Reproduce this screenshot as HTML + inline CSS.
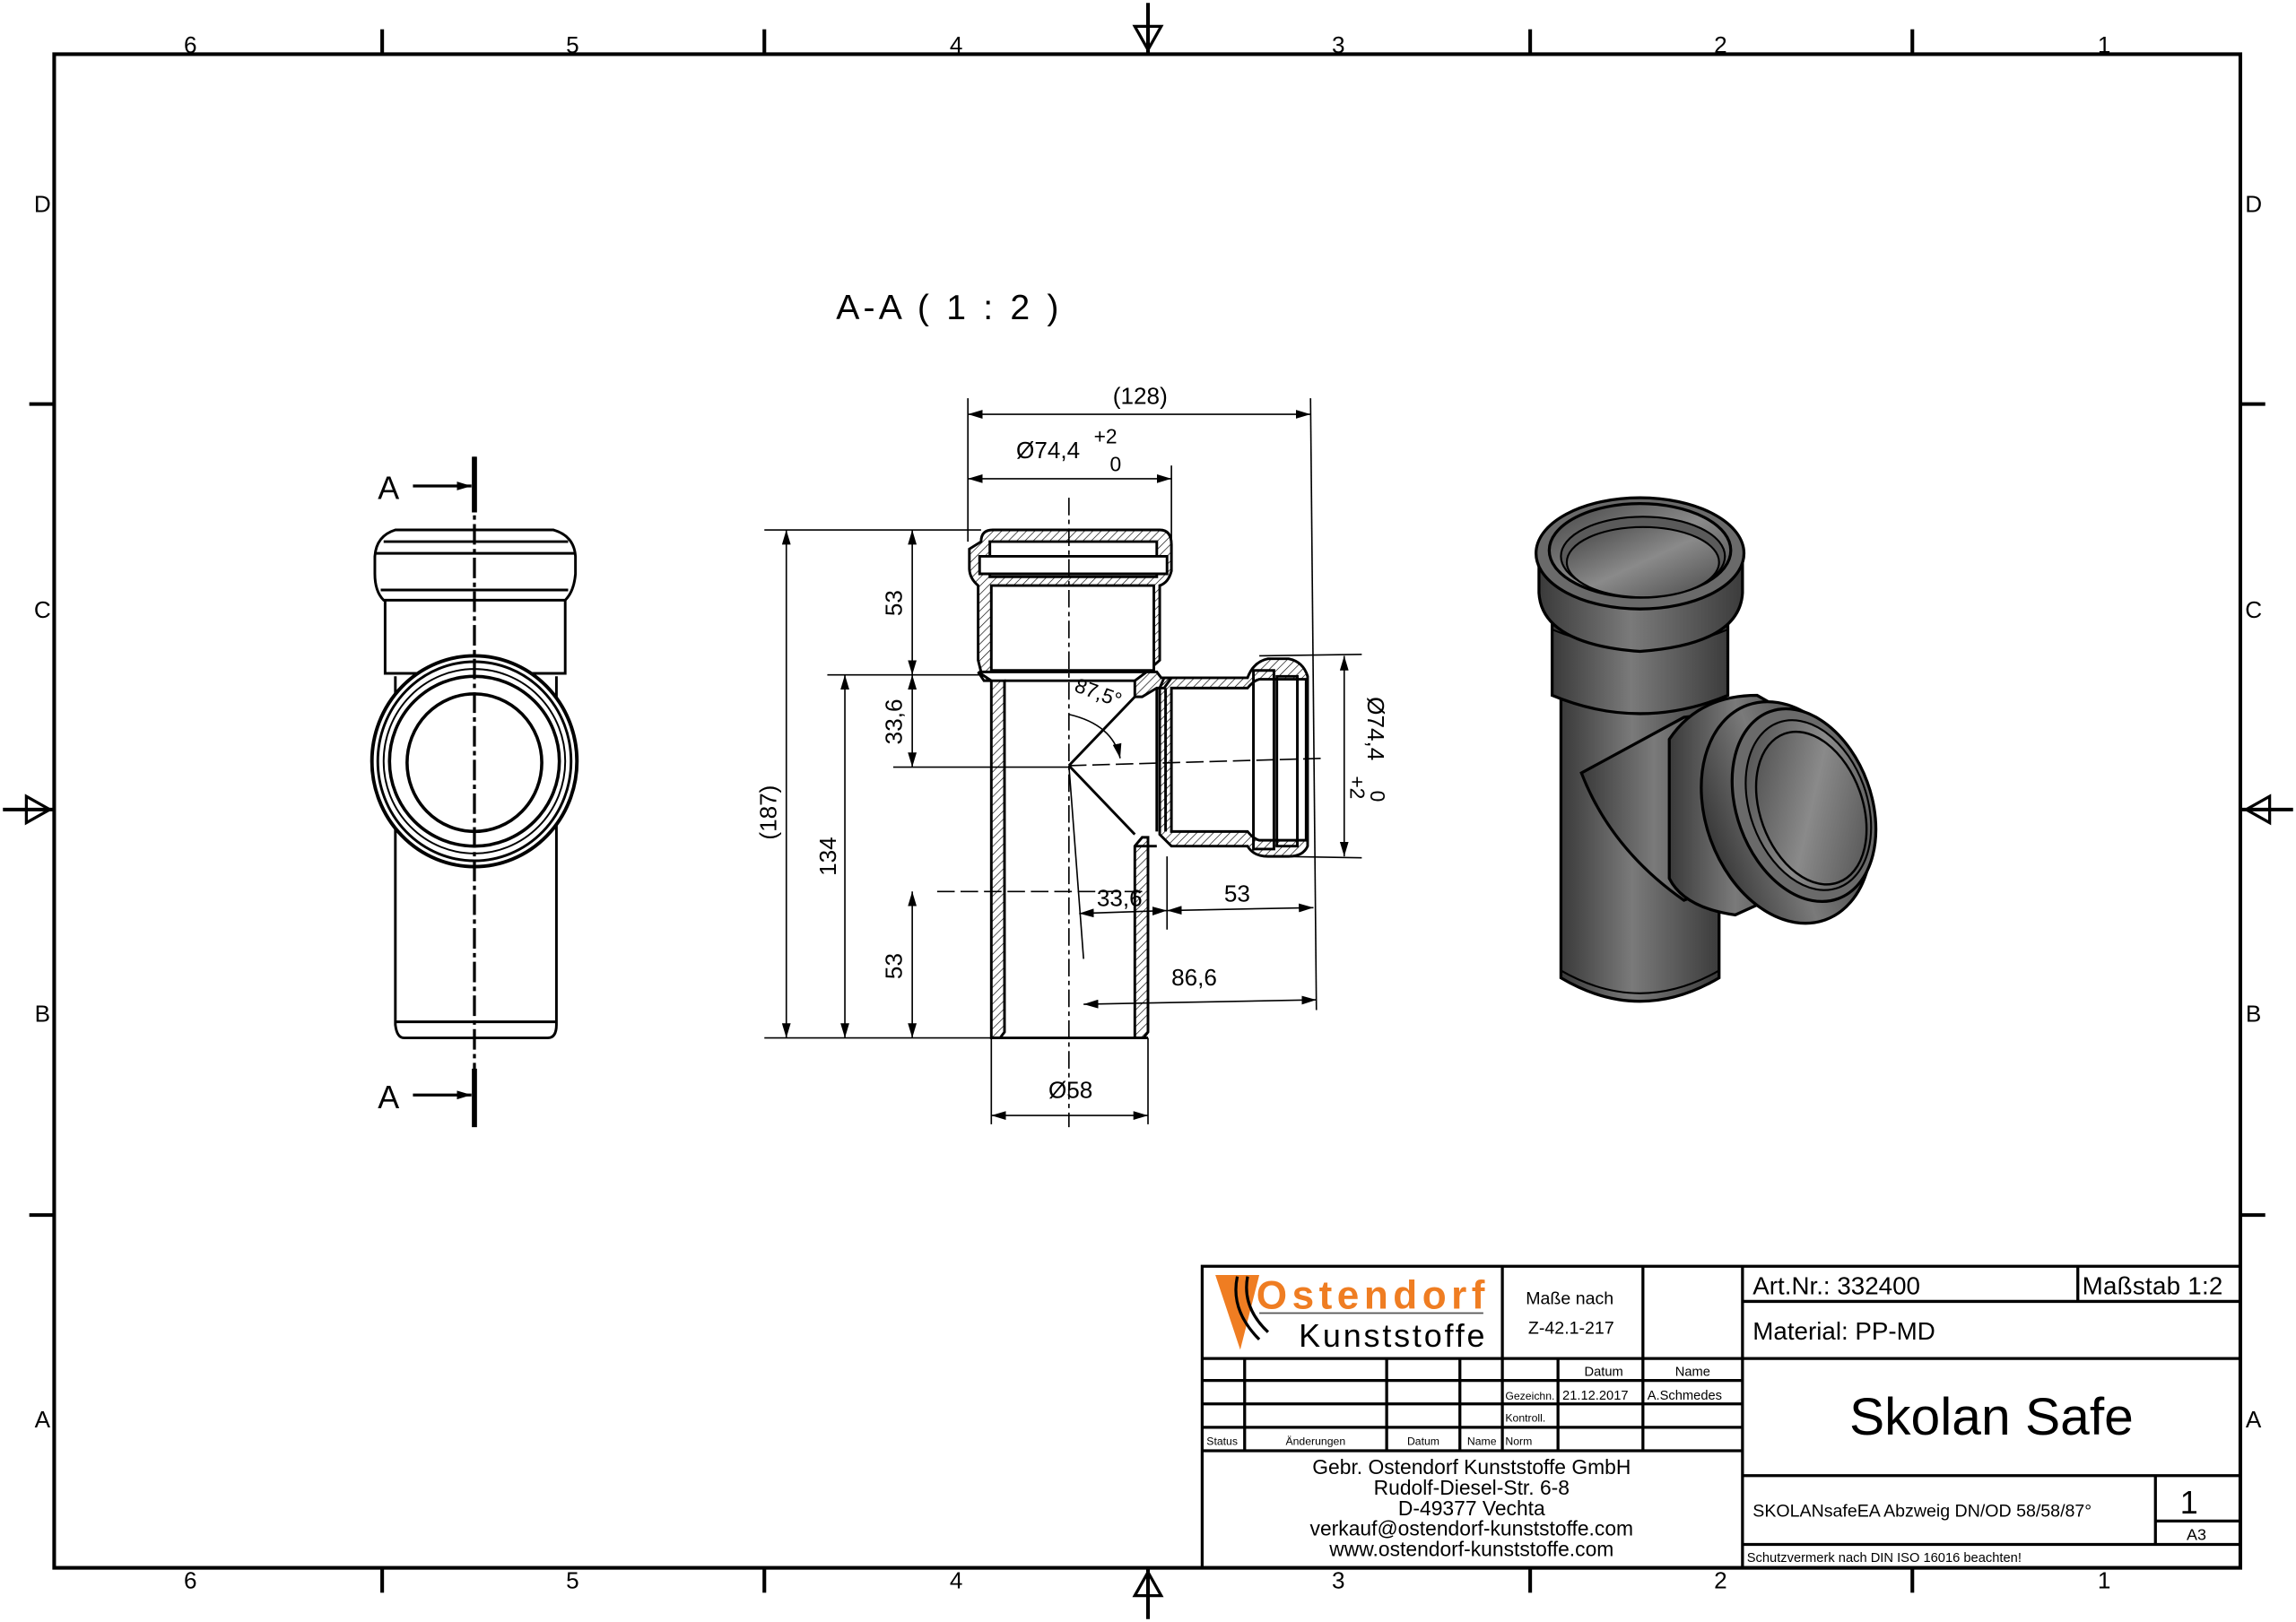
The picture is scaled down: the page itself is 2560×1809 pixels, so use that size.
<!DOCTYPE html>
<html><head><meta charset="utf-8"><style>
html,body{margin:0;padding:0;background:#fff}
svg{display:block}
text{font-family:"Liberation Sans",sans-serif;fill:#000}
</style></head><body>
<svg width="2560" height="1809" viewBox="0 0 1568 1108" xmlns="http://www.w3.org/2000/svg">
<defs>
<marker id="ar" viewBox="0 0 10 6" refX="10" refY="3" markerWidth="10" markerHeight="6" orient="auto-start-reverse" markerUnits="userSpaceOnUse"><path d="M0,0L10,3L0,6z" fill="#000"/></marker>
<linearGradient id="g1" x1="0" x2="1" y1="0" y2="0"><stop offset="0" stop-color="#3a3a3a"/><stop offset="0.45" stop-color="#7a7a7a"/><stop offset="1" stop-color="#3c3c3c"/></linearGradient>
<linearGradient id="g2" x1="0" x2="1" y1="0" y2="1"><stop offset="0" stop-color="#444"/><stop offset="0.5" stop-color="#8a8a8a"/><stop offset="1" stop-color="#4a4a4a"/></linearGradient>
<pattern id="hatch" width="4" height="4" patternUnits="userSpaceOnUse" patternTransform="rotate(45)"><line x1="0" y1="0" x2="0" y2="4" stroke="#000" stroke-width="0.8"/></pattern>
</defs>
<!-- frame -->
<rect x="37" y="37" width="1493" height="1034" fill="none" stroke="#000" stroke-width="2.5"/>
<g stroke="#000" stroke-width="2.5">
<line x1="261" y1="20" x2="261" y2="37"/><line x1="522" y1="20" x2="522" y2="37"/><line x1="1045" y1="20" x2="1045" y2="37"/><line x1="1306" y1="20" x2="1306" y2="37"/>
<line x1="261" y1="1071" x2="261" y2="1088"/><line x1="522" y1="1071" x2="522" y2="1088"/><line x1="1045" y1="1071" x2="1045" y2="1088"/><line x1="1306" y1="1071" x2="1306" y2="1088"/>
<line x1="20" y1="276" x2="37" y2="276"/><line x1="20" y1="830" x2="37" y2="830"/>
<line x1="1530" y1="276" x2="1547" y2="276"/><line x1="1530" y1="830" x2="1547" y2="830"/>
<line x1="784" y1="2" x2="784" y2="37"/><line x1="784" y1="1071" x2="784" y2="1106"/>
<line x1="2" y1="553" x2="37" y2="553"/><line x1="1530" y1="553" x2="1566" y2="553"/>
</g>
<g fill="none" stroke="#000" stroke-width="2">
<path d="M775,18 L784,34 L793,18 Z"/><path d="M775,1090 L784,1074 L793,1090 Z"/>
<path d="M18,544 L34,553 L18,562 Z"/><path d="M1550,544 L1534,553 L1550,562 Z"/>
</g>
<g font-size="16" text-anchor="middle">
<text x="130" y="36">6</text><text x="391" y="36">5</text><text x="653" y="36">4</text><text x="914" y="36">3</text><text x="1175" y="36">2</text><text x="1437" y="36">1</text>
<text x="130" y="1085">6</text><text x="391" y="1085">5</text><text x="653" y="1085">4</text><text x="914" y="1085">3</text><text x="1175" y="1085">2</text><text x="1437" y="1085">1</text>
<text x="29" y="145">D</text><text x="29" y="422">C</text><text x="29" y="698">B</text><text x="29" y="975">A</text>
<text x="1539" y="145">D</text><text x="1539" y="422">C</text><text x="1539" y="698">B</text><text x="1539" y="975">A</text>
</g>
<text x="571" y="218" font-size="24" textLength="152">A-A ( 1 : 2 )</text>

<!-- left view -->
<g fill="none" stroke="#000" stroke-width="1.8">
<path d="M270,362 H378 Q392,366 393,380 V392 Q392,404 386,410 H262 Q256,404 256,392 V380 Q257,366 270,362 Z"/>
<line x1="262" y1="370" x2="388" y2="370"/><line x1="257" y1="378" x2="392" y2="378"/><line x1="260" y1="403" x2="388" y2="403"/>
<path d="M263,410 V460 H386 V410"/>
<path d="M270,462 V700 Q271,709 276,709 H374 Q380,709 380,700 V462"/>
<line x1="270" y1="698" x2="380" y2="698"/>
<ellipse cx="324" cy="520" rx="70" ry="72" fill="#fff" stroke-width="2.4"/>
<ellipse cx="324" cy="520" rx="66" ry="68"/>
<ellipse cx="324" cy="520" rx="62" ry="63" stroke-width="1.2"/>
<ellipse cx="324" cy="520" rx="58" ry="58" stroke-width="2.2"/>
<ellipse cx="324" cy="521" rx="46" ry="47" stroke-width="2.2"/>
</g>
<line x1="324" y1="312" x2="324" y2="770" stroke="#000" stroke-width="2" stroke-dasharray="14,3,3,3"/>
<line x1="324" y1="312" x2="324" y2="350" stroke="#000" stroke-width="3.5"/>
<line x1="324" y1="730" x2="324" y2="770" stroke="#000" stroke-width="3.5"/>
<line x1="282" y1="332" x2="322" y2="332" stroke="#000" stroke-width="2" marker-end="url(#ar)"/>
<line x1="282" y1="748" x2="322" y2="748" stroke="#000" stroke-width="2" marker-end="url(#ar)"/>
<text x="258" y="341" font-size="22">A</text><text x="258" y="757" font-size="22">A</text>

<!-- section view -->
<g stroke="#000" stroke-width="1.8">
<!-- main left wall -->
<path d="M670,370 Q670,362 678,362 H792 Q800,362 800,372 V390 Q798,398 792,400 V451 L783,459 H670 L668,451 V400 Q662,395 662,388 V375 Z" fill="url(#hatch)"/>
<path d="M676,370 H790 V394 H676 Z" fill="#fff"/>
<path d="M669,380 H797 V392 H669 Z" fill="#fff"/>
<path d="M677,400 H788 V458 H677 Z" fill="#fff"/>
<path d="M668,459 L672,465 H686 V705 L683,709 H677 V465 Z" fill="url(#hatch)"/>
<path d="M784,705 L781,709 H775 V578 L780,572 H784 Z" fill="url(#hatch)"/>
<path d="M783,459 L790,459 L793,463 H800 L795,470 H790 L780,476 H775 V465 Z" fill="url(#hatch)"/>
<!-- branch -->
<path d="M795,463 H852 Q856,452 866,450 H880 Q890,452 893,462 V578 Q890,585 880,585 H866 Q856,585 852,578 H800 L792,570 V470 Z" fill="url(#hatch)"/>
<path d="M800,470 H852 Q856,465 860,464 H892 V574 H860 Q856,573 852,568 H800 Z" fill="#fff"/>
<path d="M856,458 H870 V580 H856 Z M872,462 H886 V578 H872 Z" fill="none"/>
<line x1="790" y1="470" x2="790" y2="568"/><line x1="796" y1="470" x2="796" y2="568"/>
<line x1="686" y1="465" x2="775" y2="465"/>
<line x1="775" y1="578" x2="790" y2="578"/>
<line x1="730" y1="523" x2="775" y2="476" fill="none"/>
<line x1="730" y1="523" x2="775" y2="570" fill="none"/>
<line x1="677" y1="709" x2="784" y2="709"/>
</g>
<g stroke="#000" stroke-width="1" fill="none">
<line x1="730" y1="340" x2="730" y2="770" stroke-dasharray="12,3,3,3"/>
<line x1="730" y1="523" x2="905" y2="518" stroke-dasharray="12,4"/>
<line x1="640" y1="609" x2="780" y2="609" stroke-dasharray="12,4"/>
<line x1="730" y1="523" x2="740" y2="655"/>
<!-- extension lines -->
<line x1="661" y1="272" x2="661" y2="370"/><line x1="895" y1="272" x2="899" y2="690"/>
<line x1="800" y1="318" x2="800" y2="372"/>
<line x1="522" y1="362" x2="670" y2="362"/><line x1="522" y1="709" x2="677" y2="709"/>
<line x1="565" y1="461" x2="670" y2="461"/><line x1="610" y1="524" x2="730" y2="524"/>
<line x1="677" y1="709" x2="677" y2="768"/><line x1="784" y1="709" x2="784" y2="768"/>
<line x1="860" y1="448" x2="930" y2="447"/><line x1="870" y1="585" x2="930" y2="586"/>
<line x1="797" y1="585" x2="797" y2="635"/>
<!-- dim lines -->
<line x1="661" y1="283" x2="895" y2="283" marker-start="url(#ar)" marker-end="url(#ar)"/>
<line x1="661" y1="327" x2="800" y2="327" marker-start="url(#ar)" marker-end="url(#ar)"/>
<line x1="537" y1="362" x2="537" y2="709" marker-start="url(#ar)" marker-end="url(#ar)"/>
<line x1="577" y1="461" x2="577" y2="709" marker-start="url(#ar)" marker-end="url(#ar)"/>
<line x1="623" y1="362" x2="623" y2="461" marker-start="url(#ar)" marker-end="url(#ar)"/>
<line x1="623" y1="461" x2="623" y2="524" marker-start="url(#ar)" marker-end="url(#ar)"/>
<line x1="623" y1="609" x2="623" y2="709" marker-start="url(#ar)" marker-end="url(#ar)"/>
<line x1="677" y1="762" x2="784" y2="762" marker-start="url(#ar)" marker-end="url(#ar)"/>
<line x1="918" y1="448" x2="918" y2="585" marker-start="url(#ar)" marker-end="url(#ar)"/>
<line x1="737" y1="624" x2="797" y2="622" marker-start="url(#ar)" marker-end="url(#ar)"/>
<line x1="797" y1="622" x2="897" y2="620" marker-start="url(#ar)" marker-end="url(#ar)"/>
<line x1="740" y1="686" x2="899" y2="683" marker-start="url(#ar)" marker-end="url(#ar)"/>
<path d="M730,488 Q760,495 765,518" marker-end="url(#ar)"/>
</g>
<g font-size="16">
<text x="760" y="276">(128)</text>
<text x="694" y="313">Ø74,4</text><text x="747" y="303" font-size="14">+2</text><text x="758" y="322" font-size="14">0</text>
<text x="716" y="750">Ø58</text>
<text x="749" y="619">33,6</text><text x="836" y="616">53</text><text x="800" y="673">86,6</text>
<text transform="translate(530,555) rotate(-90)" text-anchor="middle">(187)</text>
<text transform="translate(571,585) rotate(-90)" text-anchor="middle">134</text>
<text transform="translate(616,412) rotate(-90)" text-anchor="middle">53</text>
<text transform="translate(616,493) rotate(-90)" text-anchor="middle">33,6</text>
<text transform="translate(616,660) rotate(-90)" text-anchor="middle">53</text>
<text transform="translate(733,472) rotate(20)" font-size="14">87,5°</text>
<text transform="translate(934,476) rotate(90)">Ø74,4</text>
<text transform="translate(922,530) rotate(90)" font-size="14">+2</text>
<text transform="translate(936,540) rotate(90)" font-size="14">0</text>
</g>

<!-- 3D view -->
<g stroke="#000" stroke-width="2">
<path d="M1066,470 V668 Q1120,700 1174,668 V470 Z" fill="url(#g1)"/>
<path d="M1066,663 Q1120,694 1174,663" fill="none" stroke-width="1.3"/>
<path d="M1060,420 V475 Q1120,500 1180,475 V420 Z" fill="url(#g1)"/>
<path d="M1060,430 Q1120,455 1180,430" fill="none" stroke-width="1.3"/>
<path d="M1051,382 V405 Q1053,440 1120,445 Q1188,440 1190,405 V382 Z" fill="url(#g1)"/>
<ellipse cx="1120" cy="378" rx="71" ry="38" fill="#6a6a6a"/>
<ellipse cx="1120" cy="376" rx="62" ry="32" fill="url(#g2)"/>
<ellipse cx="1122" cy="380" rx="56" ry="27" fill="#5a5a5a" stroke-width="1.3"/>
<ellipse cx="1122" cy="384" rx="52" ry="24" fill="url(#g2)" stroke-width="1.3"/>
<!-- branch -->
<path d="M1080,528 L1150,490 L1190,485 L1190,600 L1150,615 Q1100,580 1080,528 Z" fill="url(#g1)"/>
<path d="M1140,505 Q1160,475 1200,475 L1235,495 L1240,600 L1185,625 Q1150,620 1140,600 Z" fill="url(#g1)"/>
<ellipse cx="1220" cy="555" rx="55" ry="78" transform="rotate(-20 1220 555)" fill="url(#g1)"/>
<ellipse cx="1232" cy="550" rx="46" ry="68" transform="rotate(-20 1232 550)" fill="#6a6a6a"/>
<ellipse cx="1235" cy="550" rx="40" ry="60" transform="rotate(-20 1235 550)" fill="url(#g2)" stroke-width="1.3"/>
<ellipse cx="1237" cy="552" rx="35" ry="54" transform="rotate(-20 1237 552)" fill="url(#g2)" stroke-width="1.5"/>
</g>

<!-- title block -->
<g fill="none" stroke="#000" stroke-width="2">
<rect x="821" y="865" width="709" height="206"/>
<line x1="1190" y1="865" x2="1190" y2="1071"/>
<line x1="1026" y1="865" x2="1026" y2="991"/><line x1="1122" y1="865" x2="1122" y2="991"/>
<line x1="821" y1="928" x2="1190" y2="928"/><line x1="821" y1="943" x2="1190" y2="943"/>
<line x1="821" y1="959" x2="1190" y2="959"/><line x1="821" y1="975" x2="1190" y2="975"/><line x1="821" y1="991" x2="1190" y2="991"/>
<line x1="850" y1="928" x2="850" y2="991"/><line x1="947" y1="928" x2="947" y2="991"/><line x1="997" y1="928" x2="997" y2="991"/><line x1="1064" y1="928" x2="1064" y2="991"/>
<line x1="1190" y1="889" x2="1530" y2="889"/><line x1="1419" y1="865" x2="1419" y2="889"/>
<line x1="1190" y1="928" x2="1530" y2="928"/><line x1="1190" y1="1008" x2="1530" y2="1008"/>
<line x1="1472" y1="1008" x2="1472" y2="1055"/><line x1="1472" y1="1039" x2="1530" y2="1039"/>
<line x1="1190" y1="1055" x2="1530" y2="1055"/>
</g>
<!-- logo -->
<path d="M830,871 L860,871 L847,922 Z" fill="#ef7d22"/>
<path d="M845,872 Q840,895 860,915" fill="none" stroke="#000" stroke-width="2"/>
<path d="M852,872 Q848,893 866,910" fill="none" stroke="#000" stroke-width="2"/>
<text x="858" y="894" font-size="27" fill="#ef7d22" style="fill:#ef7d22" textLength="156" font-weight="bold">Ostendorf</text>
<line x1="860" y1="897" x2="1013" y2="897" stroke="#555" stroke-width="1"/>
<text x="887" y="920" font-size="22" textLength="127">Kunststoffe</text>
<g font-size="12" text-anchor="middle">
<text x="1072" y="891">Maße nach</text><text x="1073" y="911">Z-42.1-217</text>
</g>
<g font-size="9">
<text x="1082" y="940">Datum</text><text x="1144" y="940">Name</text>
<text x="1028" y="956" font-size="7.5">Gezeichn.</text><text x="1067" y="956">21.12.2017</text><text x="1125" y="956">A.Schmedes</text>
<text x="1028" y="971" font-size="7.5">Kontroll.</text><text x="1028" y="987" font-size="7.5">Norm</text>
<text x="824" y="987" font-size="7.5">Status</text><text x="878" y="987" font-size="7.5">Änderungen</text><text x="961" y="987" font-size="7.5">Datum</text><text x="1002" y="987" font-size="7.5">Name</text>
</g>
<g font-size="14" text-anchor="middle">
<text x="1005" y="1007">Gebr. Ostendorf Kunststoffe GmbH</text>
<text x="1005" y="1021">Rudolf-Diesel-Str. 6-8</text>
<text x="1005" y="1035">D-49377 Vechta</text>
<text x="1005" y="1049">verkauf@ostendorf-kunststoffe.com</text>
<text x="1005" y="1063">www.ostendorf-kunststoffe.com</text>
</g>
<text x="1197" y="884" font-size="17">Art.Nr.: 332400</text>
<text x="1422" y="884" font-size="17" textLength="96">Maßstab 1:2</text>
<text x="1197" y="915" font-size="17">Material: PP-MD</text>
<text x="1360" y="980" font-size="36" text-anchor="middle">Skolan Safe</text>
<text x="1197" y="1036" font-size="12">SKOLANsafeEA Abzweig DN/OD 58/58/87°</text>
<text x="1495" y="1034" font-size="22" text-anchor="middle">1</text>
<text x="1500" y="1052" font-size="11" text-anchor="middle">A3</text>
<text x="1193" y="1067" font-size="9">Schutzvermerk nach DIN ISO 16016 beachten!</text>
</svg>
</body></html>
